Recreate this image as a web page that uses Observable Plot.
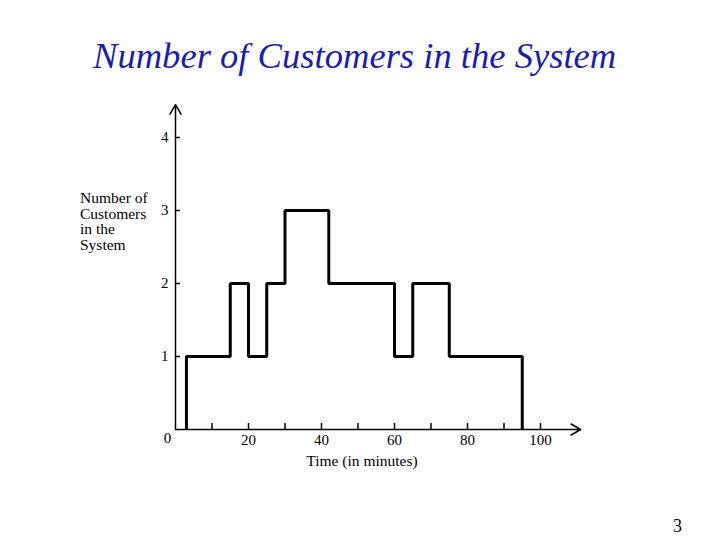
<!DOCTYPE html>
<html><head><meta charset="utf-8">
<script src="https://cdn.jsdelivr.net/npm/d3@7"></script>
<script src="https://cdn.jsdelivr.net/npm/@observablehq/plot@0.6"></script>
<style>
html,body{margin:0;padding:0;background:#fff;}
#page{position:relative;width:720px;height:540px;overflow:hidden;font-family:"Liberation Serif",serif;color:#000;}
#title{position:absolute;left:93px;top:37px;height:53px;font-size:36.6px;line-height:37px;font-style:italic;color:#1e1ea0;white-space:nowrap;}
#chart{position:absolute;left:0;top:90px;}
#ylabel{position:absolute;left:80px;top:190px;font-size:15.5px;line-height:15.5px;}
#xlabel{position:absolute;left:262px;width:200px;top:453px;text-align:center;font-size:15.5px;line-height:15.5px;}
#pagenum{position:absolute;left:673px;top:517px;font-size:18px;line-height:18px;}
</style></head><body>
<div id="page">
  <div id="title">Number of Customers in the System</div>
  <div id="chart"></div>
  <div id="ylabel">Number of<br>Customers<br>in the<br>System</div>
  <div id="xlabel">Time (in minutes)</div>
  <div id="pagenum">3</div>
</div>
<script>
// Data
const changeTimes = [3, 15, 20, 25, 30, 42, 60, 65, 75, 95];   // minutes at which count changes
const customers   = [1, 2, 1, 2, 3, 2, 1, 2, 1, 0];            // count after each change
const startCount  = 0;
const xTicks      = [10, 20, 30, 40, 50, 60, 70, 80, 90, 100];
const xTickLabels = [20, 40, 60, 80, 100];
const yTicks      = [1, 2, 3, 4];
const originLabel = [{x: 0, y: 0, text: "0"}];
const axisArrows  = [{x1: 0, y1: 0, x2: 111, y2: 0}, {x1: 0, y1: 0, x2: 0, y2: 4.45}];

const steps = [{t: changeTimes[0], n: startCount}]
  .concat(changeTimes.map((t, i) => ({t, n: customers[i]})));

const plot = Plot.plot({
  width: 720, height: 450,
  marginLeft: 175, marginRight: 180, marginTop: 47, marginBottom: 111,
  x: {domain: [0, 100]},
  y: {domain: [0, 4]},
  style: {fontFamily: "Liberation Serif", fontSize: "15px", color: "#000", background: "transparent"},
  marks: [
    Plot.axisX(xTicks, {tickSize: -6, text: null, label: null, strokeWidth: 1.5}),
    Plot.axisX(xTickLabels, {tickSize: 0, tickPadding: 5, label: null, tickFormat: "d"}),
    Plot.axisY(yTicks, {tickSize: -5, text: null, label: null, strokeWidth: 1.5}),
    Plot.axisY(yTicks, {tickSize: 0, tickPadding: 7, label: null, tickFormat: "d"}),
    Plot.text(originLabel, {x: "x", y: "y", text: "text", dx: -8, dy: 9, fontSize: 15}),
    Plot.arrow(axisArrows, {x1: "x1", y1: "y1", x2: "x2", y2: "y2", stroke: "#000", strokeWidth: 1.5, headLength: 11, headAngle: 60}),
    Plot.line(steps, {x: "t", y: "n", curve: "step-after", stroke: "#000", strokeWidth: 3, strokeLinejoin: "miter", strokeLinecap: "butt"})
  ]
});
document.getElementById("chart").appendChild(plot);
</script>
</body></html>
